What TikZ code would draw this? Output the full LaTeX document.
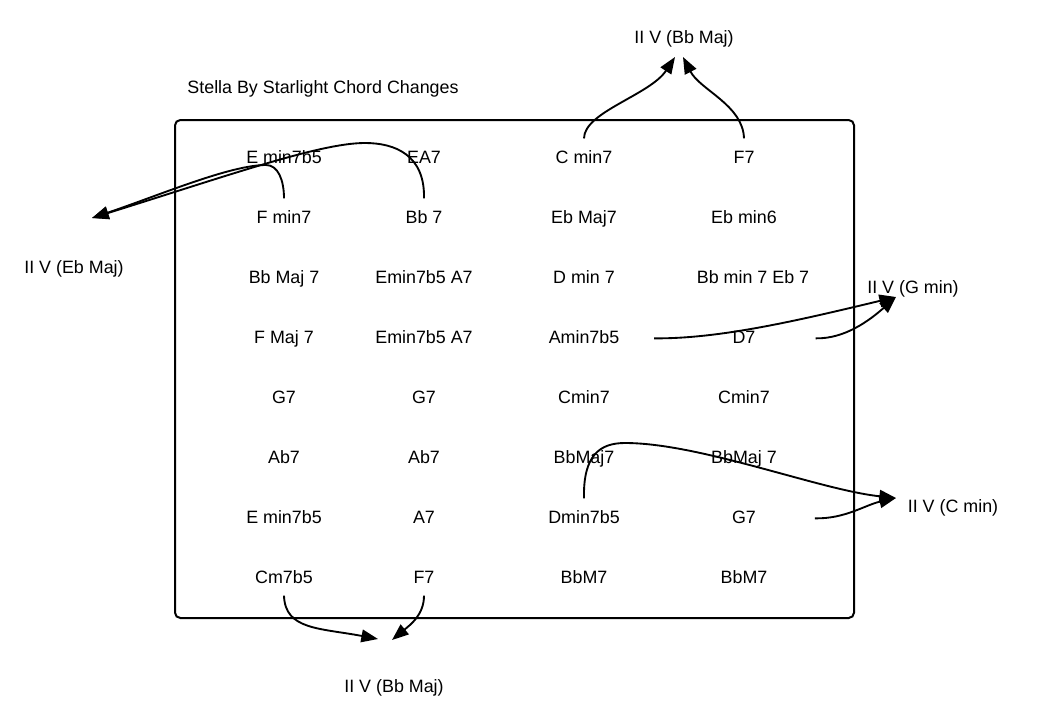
\documentclass[tikz,border=0pt]{standalone}
\usepackage{fontspec}
\setmainfont{Liberation Sans}
\usepackage{tikz}
\usetikzlibrary{arrows.meta}
\tikzstyle{chord} = [font=\fontsize{13.4}{16}\selectfont, text height=9.5pt, text depth=0pt, inner xsep=0pt, inner ysep=9pt]
\tikzstyle{twofive} = [font=\fontsize{13.4}{16}\selectfont]
\tikzstyle{lead} = [line width=1.4pt, -{Triangle[length=12.5pt,width=9.5pt]}]

\begin{document}
\begin{tikzpicture}[x=0.75pt,y=-0.75pt]
    \useasboundingbox (0,0) rectangle (1041,717);
    \node[twofive] (title) at (323,89) {Stella By Starlight Chord Changes};
    \draw[line width=1.5pt, rounded corners=4pt] (175,120) rectangle (854,618);

    % column 1
    \node[chord] (a1) at (284,157) {E min7b5};
    \node[chord] (a2) at (284,217) {F min7};
    \node[chord] (a3) at (284,277) {Bb Maj 7};
    \node[chord] (a4) at (284,337) {F Maj 7};
    \node[chord] (a5) at (284,397) {G7};
    \node[chord] (a6) at (284,457) {Ab7};
    \node[chord] (a7) at (284,517) {E min7b5};
    \node[chord] (a8) at (284,577) {Cm7b5};
    % column 2
    \node[chord] (b1) at (424,157) {EA7};
    \node[chord] (b2) at (424,217) {Bb 7};
    \node[chord] (b3) at (424,277) {Emin7b5 A7};
    \node[chord] (b4) at (424,337) {Emin7b5 A7};
    \node[chord] (b5) at (424,397) {G7};
    \node[chord] (b6) at (424,457) {Ab7};
    \node[chord] (b7) at (424,517) {A7};
    \node[chord] (b8) at (424,577) {F7};
    % column 3
    \node[chord] (c1) at (584,157) {C min7};
    \node[chord] (c2) at (584,217) {Eb Maj7};
    \node[chord] (c3) at (584,277) {D min 7};
    \node[chord] (c4) at (584,337) {Amin7b5};
    \node[chord] (c5) at (584,397) {Cmin7};
    \node[chord] (c6) at (584,457) {BbMaj7};
    \node[chord] (c7) at (584,517) {Dmin7b5};
    \node[chord] (c8) at (584,577) {BbM7};
    % column 4
    \node[chord] (d1) at (744,157) {F7};
    \node[chord] (d2) at (744,217) {Eb min6};
    \node[chord] (d3) at (753,277) {Bb min 7 Eb 7};
    \node[chord] (d4) at (744,337) {D7};
    \node[chord] (d5) at (744,397) {Cmin7};
    \node[chord] (d6) at (744,457) {BbMaj 7};
    \node[chord] (d7) at (744,517) {G7};
    \node[chord] (d8) at (744,577) {BbM7};

    % II V labels and arrow tips
    \node[twofive] (bbtop) at (684,39) {II V (Bb Maj)};
    \node[twofive] (ebmaj) at (74,269) {II V (Eb Maj)};
    \node[twofive] (gmin) at (913,289) {II V (G min)};
    \node[twofive] (cmin) at (953,508) {II V (C min)};
    \node[twofive] (bbbot) at (394,688) {II V (Bb Maj)};
    \coordinate (tipa) at (675,57);
    \coordinate (tipb) at (683,57);
    \coordinate (tipeb) at (92,218);
    \coordinate (tipg) at (896,297);
    \coordinate (tipc) at (896,498);
    \coordinate (tipd) at (378,639);
    \coordinate (tipe) at (392,640);

    \draw[lead] (c1.north) .. controls (584,112) and (650,95) .. (tipa);
    \draw[lead] (d1.north) .. controls (743,105) and (700,90) .. (tipb);
    \draw[lead] (a2.north) .. controls (284,180) and (278,165) .. (266,165)
        .. controls (230,165) and (160,195) .. (tipeb);
    \draw[lead] (b2.north) .. controls (425,155) and (395,143) .. (365,143)
        .. controls (320,143) and (230,175) .. (tipeb);
    \draw[lead] ([xshift=26pt,yshift=-1pt]c4.east) .. controls (720,339) and (800,320) .. (tipg);
    \draw[lead] ([xshift=45pt,yshift=-1pt]d4.east) .. controls (845,339) and (870,320) .. (tipg);
    \draw[lead] (c7.north) .. controls (583,455) and (600,443) .. (625,443)
        .. controls (700,443) and (820,490) .. (tipc);
    \draw[lead] ([xshift=44pt,yshift=-1pt]d7.east) .. controls (845,519) and (865,505) .. (tipc);
    \draw[lead] (a8.south) .. controls (285,630) and (320,628) .. (tipd);
    \draw[lead] (b8.south) .. controls (424,615) and (410,625) .. (tipe);
\end{tikzpicture}
\end{document}
